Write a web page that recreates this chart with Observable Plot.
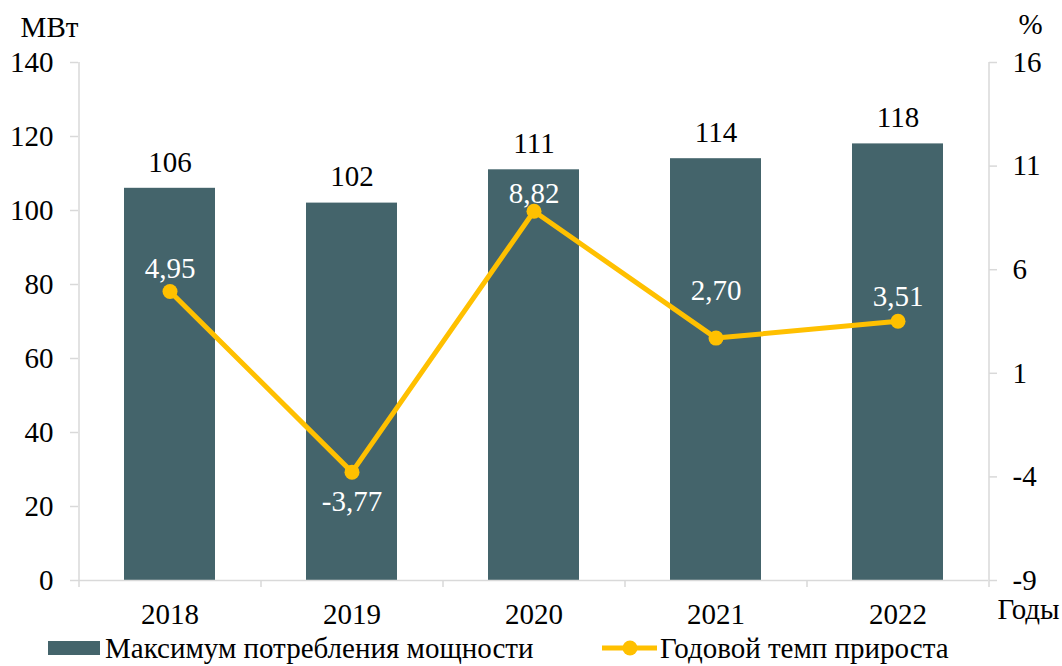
<!DOCTYPE html>
<html>
<head>
<meta charset="utf-8">
<script src="https://cdn.jsdelivr.net/npm/d3@7"></script>
<script src="https://cdn.jsdelivr.net/npm/@observablehq/plot@0.6"></script>
<style>
  html, body { margin: 0; padding: 0; background: #fff; }
  body { width: 1062px; height: 666px; overflow: hidden; font-family: "Liberation Serif", "DejaVu Serif", "Noto Serif", serif; }
  #legend { position: relative; height: 36px; font-size: 29px; color: #000; }
  .item { position: absolute; top: 0; height: 36px; display: flex; align-items: center; }
  .item svg { display: block; }
</style>
</head>
<body>
<div id="chart"></div>
<div id="legend">
  <div class="item" style="left:48px;">
    <svg width="54" height="16"><rect x="0" y="1" width="52" height="14" fill="#44646b"></rect></svg>
    <span style="margin-left:3px;">Максимум потребления мощности</span>
  </div>
  <div class="item" style="left:602px;">
    <svg width="56" height="18"><line x1="0" y1="9" x2="55" y2="9" stroke="#FFC000" stroke-width="5"></line><circle cx="28" cy="9" r="7.5" fill="#FFC000"></circle></svg>
    <span style="margin-left:2px;">Годовой темп прироста</span>
  </div>
</div>
<script>
// ---- data ----
const years = ["2018", "2019", "2020", "2021", "2022"];
const maxPower = [106, 102, 111, 114, 118];          // МВт
const growthRate = [4.95, -3.77, 8.82, 2.70, 3.51];  // %
const leftTicks = [0, 20, 40, 60, 80, 100, 120, 140];
const rightTicks = [-9, -4, 1, 6, 11, 16];
const leftDomain = [0, 140];
const rightDomain = [-9, 16];

// ---- derived ----
const data = years.map((year, i) => ({year, power: maxPower[i], growth: growthRate[i]}));
const toLeft = v => (v - rightDomain[0]) / (rightDomain[1] - rightDomain[0]) * (leftDomain[1] - leftDomain[0]) + leftDomain[0];
const fromLeft = v => (v - leftDomain[0]) / (leftDomain[1] - leftDomain[0]) * (rightDomain[1] - rightDomain[0]) + rightDomain[0];
const fmt = v => v.toFixed(2).replace(".", ",");

// layout constants (pixel offsets of labels, as placed in the original)
const growthLabelDy = [-23, 30, -18, -47, -25];
const halfStep = 91;
const axisColor = "#d9d9d9";
const fontStack = "'Liberation Serif', 'DejaVu Serif', 'Noto Serif', serif";

const marks = [
  Plot.barY(data, {x: "year", y: "power", fill: "#44646b"}),
  // axis lines
  Plot.ruleX([years[0]], {y1: 0, y2: 140, dx: -halfStep, stroke: axisColor, strokeWidth: 1.5}),
  Plot.ruleX([years[years.length - 1]], {y1: 0, y2: 140, dx: halfStep, stroke: axisColor, strokeWidth: 1.5}),
  Plot.ruleY([0], {stroke: axisColor, strokeWidth: 1.5}),
  // category boundary ticks
  Plot.ruleX(years, {y1: 0, y2: 0, insetTop: 7, dx: -halfStep, stroke: axisColor, strokeWidth: 1.5}),
  Plot.ruleX([years[years.length - 1]], {y1: 0, y2: 0, insetTop: 7, dx: halfStep, stroke: axisColor, strokeWidth: 1.5}),
  Plot.axisY({anchor: "left", ticks: leftTicks, tickSize: 8, tickPadding: 17, stroke: axisColor, strokeWidth: 1.5, fill: "black", label: null}),
  Plot.axisY({anchor: "right", ticks: rightTicks.map(toLeft), tickFormat: d => String(Math.round(fromLeft(d))), tickSize: 8, tickPadding: 16, stroke: axisColor, strokeWidth: 1.5, fill: "black", label: null}),
  Plot.axisX({anchor: "bottom", tickSize: 0, tickPadding: 23, fill: "black", label: null}),
  // bar value labels
  Plot.text(data, {x: "year", y: "power", text: d => String(d.power), dy: -26, fill: "black"}),
  // growth line
  Plot.line(data, {x: "year", y: d => toLeft(d.growth), stroke: "#FFC000", strokeWidth: 5, strokeLinejoin: "round"}),
  Plot.dot(data, {x: "year", y: d => toLeft(d.growth), r: 7.5, fill: "#FFC000"}),
  // growth labels
  ...data.map((d, i) => Plot.text([d], {x: "year", y: e => toLeft(e.growth), text: e => fmt(e.growth), dy: growthLabelDy[i], fill: "white"})),
  // axis titles
  Plot.text(["МВт"], {frameAnchor: "top-left", lineAnchor: "middle", text: d => d, textAnchor: "middle", dx: -29, dy: -35, fill: "black"}),
  Plot.text(["%"], {frameAnchor: "top-right", lineAnchor: "middle", text: d => d, textAnchor: "middle", dx: 42, dy: -38, fill: "black"}),
  Plot.text(["Годы"], {frameAnchor: "bottom-right", lineAnchor: "middle", text: d => d, textAnchor: "middle", dx: 40, dy: 29, fill: "black"})
];

const chart = Plot.plot({
  width: 1062,
  height: 630,
  marginLeft: 78,
  marginRight: 74,
  marginTop: 62,
  marginBottom: 50,
  style: {fontFamily: fontStack, fontSize: "29px", color: "black", background: "white", overflow: "visible"},
  x: {domain: years, paddingInner: 0.5, paddingOuter: 0.25, axis: null},
  y: {domain: leftDomain, axis: null},
  marks
});
chart.setAttribute("font-family", fontStack);
chart.style.fontFamily = fontStack;
document.getElementById("chart").appendChild(chart);
</script>
</body>
</html>
